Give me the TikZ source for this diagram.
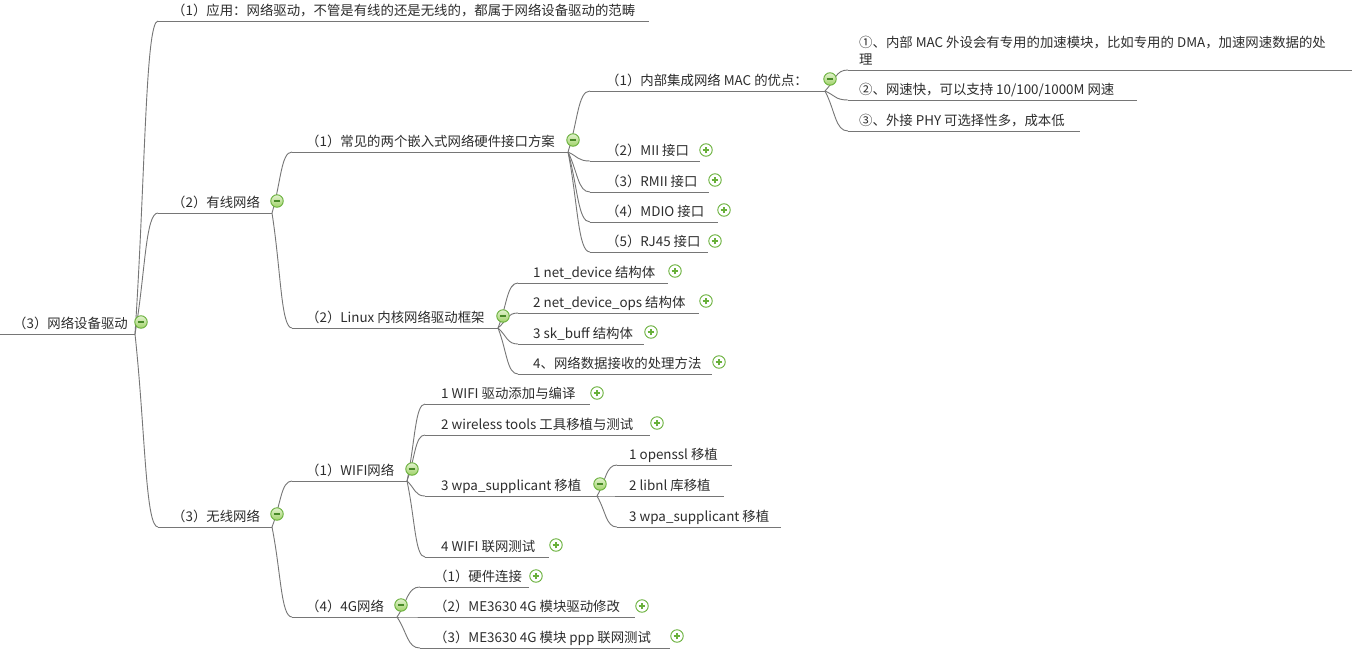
\documentclass[tikz,border=0pt]{standalone}
\usepackage{fontspec}
\newfontfamily\cjk{Noto Sans CJK SC}
\usetikzlibrary{calc}
\definecolor{linegray}{RGB}{118,118,118}
\definecolor{textgray}{RGB}{45,45,45}
\definecolor{icborder}{RGB}{104,176,58}
\definecolor{icdark}{RGB}{72,138,40}
\definecolor{iclight}{RGB}{226,242,206}
\definecolor{icmid}{RGB}{160,210,105}
\tikzset{
  line/.style={draw=linegray, line width=0.9pt},
  txt/.style={anchor=base west, inner sep=0pt, text=textgray, font=\cjk\fontsize{13.4}{17}\selectfont},
  minusic/.style={circle, draw=icborder, line width=0.9pt, minimum size=12.5pt, inner sep=0pt,
    top color=iclight, bottom color=icmid,
    path picture={\draw[icdark, line width=1.3pt] ([xshift=-3.4pt]path picture bounding box.center) -- ([xshift=3.4pt]path picture bounding box.center);}},
  plusic/.style={circle, draw=icborder, line width=0.9pt, minimum size=12.5pt, inner sep=0pt, fill=white,
    path picture={\draw[icborder, line width=1.3pt] ([xshift=-3.4pt]path picture bounding box.center) -- ([xshift=3.4pt]path picture bounding box.center)
      ([yshift=-3.4pt]path picture bounding box.center) -- ([yshift=3.4pt]path picture bounding box.center);}}
}
\newcommand\topic[6]{%
  \coordinate (#1-s) at (#2,#4);
  \coordinate (#1-e) at (#3,#4);
  \node[txt] (#1) at (#5,#4-6) {#6};
  \draw[line] (#1-s) -- (#1-e);}
\newcommand\conn[2]{%
  \draw[line] let \p1=(#1), \p2=(#2) in (\p1) .. controls ({\x1+0.45*(\x2-\x1)},{0.5*(\y1+\y2)}) and ({\x1+0.45*(\x2-\x1)},\y2) .. (\p2);}
\begin{document}
\begin{tikzpicture}[x=1pt,y=-1pt]
\useasboundingbox[fill=white] (0,0) rectangle (1352,656);
% root
\topic{root}{0}{135}{334}{13}{（3）网络设备驱动}
% level 1
\topic{A}{158}{649}{21}{172}{（1）应用：网络驱动，不管是有线的还是无线的，都属于网络设备驱动的范畴}
\topic{B}{158}{272}{213}{172}{（2）有线网络}
\topic{C}{158}{272}{527}{172}{（3）无线网络}
% wired
\topic{B1}{292}{568}{152}{306}{（1）常见的两个嵌入式网络硬件接口方案}
\topic{B2}{292}{498}{328}{306}{（2）Linux 内核网络驱动框架}
\topic{B1a}{590}{825}{91}{606}{（1）内部集成网络 MAC 的优点：}
\topic{B1b}{590}{700}{161}{606}{（2）MII 接口}
\topic{B1c}{590}{709}{192}{606}{（3）RMII 接口}
\topic{B1d}{590}{718}{222}{606}{（4）MDIO 接口}
\topic{B1e}{590}{708}{252}{606}{（5）RJ45 接口}
\coordinate (a1-s) at (848,70);
\coordinate (a1-e) at (1352,70);
\node[txt] (a1) at (859,47) {\begin{tabular}[t]{@{}l@{}}①、内部 MAC 外设会有专用的加速模块，比如专用的 DMA，加速网速数据的处\\[0pt]理\end{tabular}};
\draw[line] (a1-s) -- (a1-e);
\topic{a2}{848}{1137}{100}{859}{②、网速快，可以支持 10/100/1000M 网速}
\topic{a3}{848}{1080}{131}{859}{③、外接 PHY 可选择性多，成本低}
\topic{B2a}{518}{668}{283}{533}{1 net\_device 结构体}
\topic{B2b}{518}{699}{313}{533}{2 net\_device\_ops 结构体}
\topic{B2c}{518}{644}{344}{533}{3 sk\_buff 结构体}
\topic{B2d}{518}{712}{374}{533}{4、网络数据接收的处理方法}
% wireless
\topic{C1}{292}{407}{481}{306}{（1）WIFI网络}
\topic{C2}{292}{397}{617}{306}{（4）4G网络}
\topic{C1a}{425}{590}{404}{441}{1 WIFI 驱动添加与编译}
\topic{C1b}{425}{650}{435}{441}{2 wireless tools 工具移植与测试}
\topic{C1c}{425}{597}{496}{441}{3 wpa\_supplicant 移植}
\topic{C1d}{425}{549}{557}{441}{4 WIFI 联网测试}
\topic{c1}{617}{732}{465}{629}{1 openssl 移植}
\topic{c2}{617}{724}{496}{629}{2 libnl 库移植}
\topic{c3}{617}{781}{527}{629}{3 wpa\_supplicant 移植}
\topic{d1}{420}{529}{587}{434}{（1）硬件连接}
\topic{d2}{420}{635}{617}{434}{（2）ME3630 4G 模块驱动修改}
\topic{d3}{420}{670}{648}{434}{（3）ME3630 4G 模块 ppp 联网测试}
% connectors
\conn{root-e}{A-s}
\conn{root-e}{B-s}
\conn{root-e}{C-s}
\conn{B-e}{B1-s}
\conn{B-e}{B2-s}
\conn{B1-e}{B1a-s}
\conn{B1-e}{B1b-s}
\conn{B1-e}{B1c-s}
\conn{B1-e}{B1d-s}
\conn{B1-e}{B1e-s}
\conn{B1a-e}{a1-s}
\conn{B1a-e}{a2-s}
\conn{B1a-e}{a3-s}
\conn{B2-e}{B2a-s}
\conn{B2-e}{B2b-s}
\conn{B2-e}{B2c-s}
\conn{B2-e}{B2d-s}
\conn{C-e}{C1-s}
\conn{C-e}{C2-s}
\conn{C1-e}{C1a-s}
\conn{C1-e}{C1b-s}
\conn{C1-e}{C1c-s}
\conn{C1-e}{C1d-s}
\conn{C1c-e}{c1-s}
\conn{C1c-e}{c2-s}
\conn{C1c-e}{c3-s}
\conn{C2-e}{d1-s}
\conn{C2-e}{d2-s}
\conn{C2-e}{d3-s}
% icons
\node[minusic] (root-i) at (141,322) {};
\node[minusic] (B-i) at (277,201) {};
\node[minusic] (C-i) at (277,514) {};
\node[minusic] (B1-i) at (573,140) {};
\node[minusic] (B2-i) at (503,316) {};
\node[minusic] (B1a-i) at (830,79) {};
\node[plusic] (B1b-i) at (706,150) {};
\node[plusic] (B1c-i) at (715,180) {};
\node[plusic] (B1d-i) at (724,210) {};
\node[plusic] (B1e-i) at (715,241) {};
\node[plusic] (B2a-i) at (675,271) {};
\node[plusic] (B2b-i) at (706,301) {};
\node[plusic] (B2c-i) at (651,332) {};
\node[plusic] (B2d-i) at (719,362) {};
\node[minusic] (C1-i) at (412,469) {};
\node[minusic] (C2-i) at (401,605) {};
\node[plusic] (C1a-i) at (597,393) {};
\node[plusic] (C1b-i) at (657,423) {};
\node[minusic] (C1c-i) at (600,484) {};
\node[plusic] (C1d-i) at (556,545) {};
\node[plusic] (d1-i) at (536,576) {};
\node[plusic] (d2-i) at (642,606) {};
\node[plusic] (d3-i) at (677,636) {};
\end{tikzpicture}
\end{document}
